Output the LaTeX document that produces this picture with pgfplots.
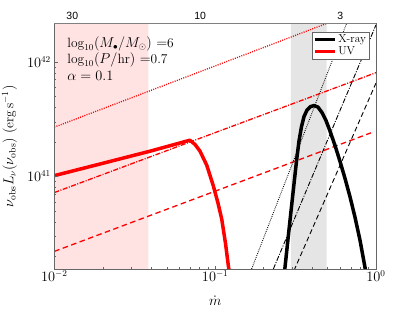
\documentclass[border=0pt]{standalone}
\usepackage{fontspec}
\newfontfamily\helv{Liberation Sans}
\usepackage{pgfplots}
\pgfplotsset{compat=1.18}
\definecolor{pinkbg}{rgb}{1,0.89,0.89}
\definecolor{greybg}{rgb}{0.9,0.9,0.9}
\begin{document}
\begin{tikzpicture}
\begin{axis}[
  at={(0,0)}, anchor=south west,
  scale only axis, width=321.7bp, height=246bp,
  xmode=log, ymode=log,
  xmin=0.01, xmax=1, ymin=1.55e40, ymax=2.17e42,
  axis on top,
  xtick pos=bottom, ytick pos=left,
  major tick length=3.5bp, minor tick length=2bp,
  axis line style={black!60}, every tick/.style={black!60},
  tick label style={font=\fontsize{13.5}{15}\selectfont},
  x tick label style={inner sep=1pt},
  label style={font=\fontsize{13.5}{15}\selectfont},
  xlabel={$\dot{m}$},
  xlabel style={at={(axis description cs:0.5,-0.108)}, anchor=north, inner sep=0pt},
  ylabel={$\nu_{\rm obs}L_{\nu}(\nu_{\rm obs})\ (\mathrm{erg\,s^{-1}})$},
  ylabel style={at={(axis description cs:-0.105,0.5)}, anchor=south},
  legend cell align=left,
  legend style={at={(0.979,0.966)}, anchor=north east, draw=black!60, font=\fontsize{11.5}{12.5}\selectfont, inner sep=1pt, row sep=-1.5pt},
  legend image code/.code={\draw[#1] (0bp,0bp) -- (20bp,0bp);},
]
% shaded regions
\addplot[fill=pinkbg, draw=none, forget plot] coordinates {(0.01,1e40) (0.0384,1e40) (0.0384,1e43) (0.01,1e43) (0.01,1e40)};
\addplot[fill=greybg, draw=none, forget plot] coordinates {(0.296,1e40) (0.493,1e40) (0.493,1e43) (0.296,1e43) (0.296,1e40)};
% red power laws
\addplot[red, line width=1.3bp, dash pattern=on 1bp off 1.3bp, forget plot] coordinates {(0.01,2.69e41) (1,3.15e42)};
\addplot[red, line width=1.3bp, dash pattern=on 5bp off 1.5bp on 1bp off 1.5bp, forget plot] coordinates {(0.01,7.23e40) (1,8.04e41)};
\addplot[red, line width=1.3bp, dash pattern=on 5.5bp off 3.5bp, forget plot] coordinates {(0.01,2.218e40) (0.93,2.40e41)};
% black power laws
\addplot[black, line width=0.9bp, dash pattern=on 0.8bp off 1.2bp, forget plot] coordinates {(0.1585,1.245e40) (0.6918,2.612e42)};
\addplot[black, line width=0.9bp, dash pattern=on 5bp off 1.5bp on 1bp off 1.5bp, forget plot] coordinates {(0.2188,1.318e40) (1,2.1e42)};
\addplot[black, line width=0.9bp, dash pattern=on 5bp off 3bp, forget plot] coordinates {(0.2951,1.30e40) (1,6.53e41)};
% X-ray
\addplot[black, line width=3.5bp, line join=round] coordinates {
(0.2660,1.152e40) (0.2718,1.609e40) (0.2837,2.836e40) (0.2962,4.968e40) (0.3092,8.616e40)
(0.3214,1.407e41) (0.3322,2.038e41) (0.3443,2.724e41) (0.3568,3.328e41) (0.3724,3.791e41)
(0.3916,4.066e41) (0.4116,4.148e41) (0.4358,4.025e41) (0.4616,3.606e41) (0.4888,3.072e41)
(0.5176,2.489e41) (0.5561,1.862e41) (0.5974,1.352e41) (0.6416,9.618e40) (0.6894,6.641e40)
(0.7404,4.406e40) (0.7953,2.780e40) (0.8543,1.609e40) (0.8793,1.248e40)};
\addlegendentry{X-ray}
% UV
\addplot[red, line width=3.5bp, line join=round] coordinates {
(0.01,1.016e41) (0.01995,1.30e41) (0.03936,1.66e41) (0.05623,1.905e41) (0.06966,2.07e41)
(0.0750,1.90e41) (0.08054,1.66e41) (0.08872,1.25e41) (0.0975,8.24e40) (0.1040,5.9e40) (0.1099,4.24e40) (0.1160,2.6e40) (0.1208,1.66e40) (0.1245,1.27e40)};
\addlegendentry{UV}
\node[anchor=west, font=\fontsize{13.5}{15}\selectfont] at (rel axis cs:0.03,0.917) {$\log_{10}(M_\bullet/M_\odot)$ $=$6};
\node[anchor=west, font=\fontsize{13.5}{15}\selectfont] at (rel axis cs:0.03,0.850) {$\log_{10}(P/\mathrm{hr})$ $=$0.7};
\node[anchor=west, font=\fontsize{13.5}{15}\selectfont] at (rel axis cs:0.03,0.785) {$\alpha=0.1$};
\end{axis}
\begin{axis}[
  at={(0,0)}, anchor=south west,
  scale only axis, width=321.7bp, height=246bp,
  xmode=log, xmin=0.01, xmax=1, ymin=0, ymax=1,
  axis x line*=top, hide y axis,
  xtick={0.01294,0.08072,0.5998}, xticklabels={30,10,3},
  major tick length=0pt, minor tick length=0pt, xminorticks=false,
  axis line style={black!50},
  tick label style={font=\helv\fontsize{10.5}{12}\selectfont},
]
\end{axis}
\pgfresetboundingbox
\useasboundingbox (-54.3bp,-42.7bp) rectangle (360.7bp,269.3bp);
\end{tikzpicture}
\end{document}
